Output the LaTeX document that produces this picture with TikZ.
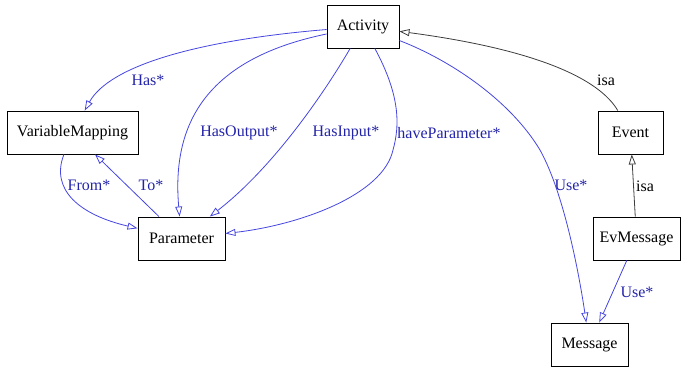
\documentclass[tikz,border=0pt]{standalone}
\usepackage{fontspec}
\setmainfont{Liberation Serif}
\usetikzlibrary{arrows.meta}
\definecolor{edgeblue}{RGB}{70,70,225}
\definecolor{labblue}{RGB}{35,35,170}
\definecolor{edgegray}{RGB}{60,60,60}
\tikzset{
  box/.style={draw, line width=0.9pt, inner sep=0pt, font=\fontsize{16}{19}\selectfont},
  rel/.style={draw=edgeblue, line width=0.8pt, -{Triangle[open,length=10pt,width=7pt]}},
  isarel/.style={draw=edgegray, line width=0.8pt, -{Triangle[open,length=10pt,width=7pt]}},
  lab/.style={text=labblue, inner sep=0pt, font=\fontsize{16}{19}\selectfont},
  isalab/.style={text=black, inner sep=0pt, font=\fontsize{16}{19}\selectfont},
}
\begin{document}
\begin{tikzpicture}[x=1pt,y=-1pt]
\useasboundingbox (0,0) rectangle (681,367);
\node[box, minimum width=72pt, minimum height=43pt] (act) at (363,26.5) {Activity};
\node[box, minimum width=131pt, minimum height=43pt] (vm) at (72.5,132.5) {VariableMapping};
\node[box, minimum width=87pt, minimum height=43pt] (par) at (181.5,238.5) {Parameter};
\node[box, minimum width=65pt, minimum height=43pt] (ev) at (630.5,132.5) {Event};
\node[box, minimum width=87pt, minimum height=43pt] (evm) at (636.5,238.5) {EvMessage};
\node[box, minimum width=77pt, minimum height=43pt] (msg) at (589.5,344.5) {Message};

\draw[rel] (act) .. controls (200,40) and (110,65) .. (vm);
\draw[rel] (act) .. controls (200,60) and (172,130) .. (par);
\draw[rel] (act) .. controls (320,100) and (270,170) .. (par);
\draw[rel] (act) .. controls (400,95) and (400,125) .. (393,150) .. controls (383,195) and (300,225) .. (par);
\draw[rel] (act) .. controls (450,60) and (510,100) .. (540,150) .. controls (565,195) and (580,280) .. (msg);
\draw[isarel] (ev) .. controls (600,80) and (540,50) .. (act);
\draw[isarel] (evm) -- (ev);
\draw[rel] (evm) -- (msg);
\draw[rel] (vm) .. controls (50,190) and (80,215) .. (par);
\draw[rel] (par) -- (vm);

\node[lab] (lhas) at (148,80) {Has*};
\node[lab] (lout) at (239,133) {HasOutput*};
\node[lab] (lin) at (346,133) {HasInput*};
\node[lab] (lhave) at (449,133) {haveParameter*};
\node[lab] (luse1) at (571,185) {Use*};
\node[isalab] (lisa1) at (606,80) {isa};
\node[isalab] (lisa2) at (645,186) {isa};
\node[lab] (luse2) at (637,292) {Use*};
\node[lab] (lfrom) at (89,185) {From*};
\node[lab] (lto) at (151,185) {To*};
\end{tikzpicture}
\end{document}
